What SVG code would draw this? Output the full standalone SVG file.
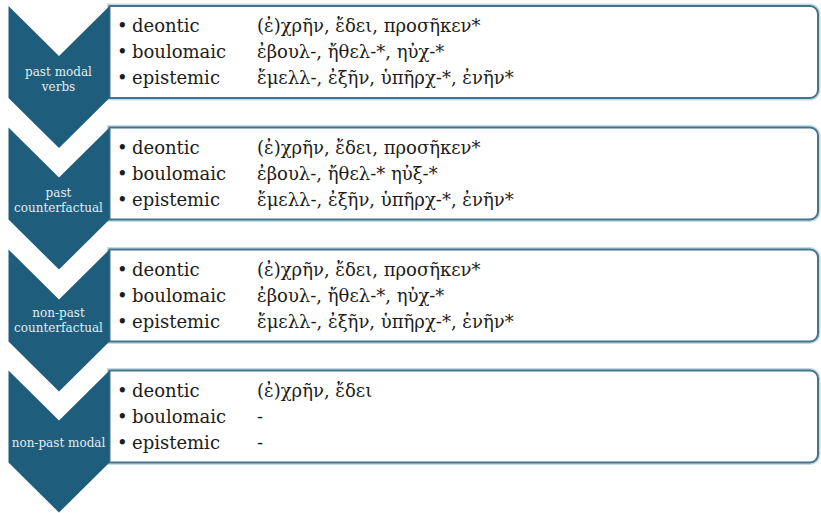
<svg xmlns="http://www.w3.org/2000/svg" width="821" height="513" viewBox="0 0 821 513">
<style>
.box{fill:#ffffff;stroke:#44748b;stroke-width:2}
.glow{fill:none;stroke:#c4dbe6;stroke-width:5}
.chev{fill:#1e5d7c}
.lbl{font-family:"DejaVu Serif",serif;font-size:12px;fill:#e3edf2;text-anchor:middle}
.item{font-family:"DejaVu Serif",serif;font-size:18px;fill:#1c1c1c}
</style>
<defs>
<path id="boxshape" d="M109.5,0 H810 a8,8 0 0 1 8,8 V84 a8,8 0 0 1 -8,8 H109.5 Z"/>
<path id="chevshape" d="M8.5,0 L59,50 L109.5,0 V92 L59,142 L8.5,92 Z"/>
</defs>
<rect width="821" height="513" fill="#ffffff"/>
<g id="connectors"></g>

<g id="row1" transform="translate(0,6)">
<use href="#boxshape" class="glow"/>
<use href="#boxshape" class="box"/>
<use href="#chevshape" class="chev"/>
<text class="lbl" x="58.5" y="70">past modal</text>
<text class="lbl" x="58.5" y="85">verbs</text>
<text class="item" y="26"><tspan x="117">•</tspan><tspan x="132">deontic</tspan><tspan x="257">(ἐ)χρῆν, ἔδει, προσῆκεν*</tspan></text>
<text class="item" y="52"><tspan x="117">•</tspan><tspan x="132">boulomaic</tspan><tspan x="257">ἐβουλ-, ἤθελ-*, ηὐχ-*</tspan></text>
<text class="item" y="78"><tspan x="117">•</tspan><tspan x="132">epistemic</tspan><tspan x="257">ἔμελλ-, ἐξῆν, ὑπῆρχ-*, ἐνῆν*</tspan></text>
</g>

<g id="row2" transform="translate(0,127.5)">
<use href="#boxshape" class="glow"/>
<use href="#boxshape" class="box"/>
<use href="#chevshape" class="chev"/>
<text class="lbl" x="58.5" y="69">past</text>
<text class="lbl" x="58.5" y="84">counterfactual</text>
<text class="item" y="26"><tspan x="117">•</tspan><tspan x="132">deontic</tspan><tspan x="257">(ἐ)χρῆν, ἔδει, προσῆκεν*</tspan></text>
<text class="item" y="52"><tspan x="117">•</tspan><tspan x="132">boulomaic</tspan><tspan x="257">ἐβουλ-, ἤθελ-* ηὐξ-*</tspan></text>
<text class="item" y="78"><tspan x="117">•</tspan><tspan x="132">epistemic</tspan><tspan x="257">ἔμελλ-, ἐξῆν, ὑπῆρχ-*, ἐνῆν*</tspan></text>
</g>

<g id="row3" transform="translate(0,249.5)">
<use href="#boxshape" class="glow"/>
<use href="#boxshape" class="box"/>
<use href="#chevshape" class="chev"/>
<text class="lbl" x="58.5" y="67">non-past</text>
<text class="lbl" x="58.5" y="82">counterfactual</text>
<text class="item" y="26"><tspan x="117">•</tspan><tspan x="132">deontic</tspan><tspan x="257">(ἐ)χρῆν, ἔδει, προσῆκεν*</tspan></text>
<text class="item" y="52"><tspan x="117">•</tspan><tspan x="132">boulomaic</tspan><tspan x="257">ἐβουλ-, ἤθελ-*, ηὐχ-*</tspan></text>
<text class="item" y="78"><tspan x="117">•</tspan><tspan x="132">epistemic</tspan><tspan x="257">ἔμελλ-, ἐξῆν, ὑπῆρχ-*, ἐνῆν*</tspan></text>
</g>

<g id="row4" transform="translate(0,370.5)">
<use href="#boxshape" class="glow"/>
<use href="#boxshape" class="box"/>
<use href="#chevshape" class="chev"/>
<text class="lbl" x="58.5" y="76">non-past modal</text>
<text class="item" y="26"><tspan x="117">•</tspan><tspan x="132">deontic</tspan><tspan x="257">(ἐ)χρῆν, ἔδει</tspan></text>
<text class="item" y="52"><tspan x="117">•</tspan><tspan x="132">boulomaic</tspan><tspan x="257">-</tspan></text>
<text class="item" y="78"><tspan x="117">•</tspan><tspan x="132">epistemic</tspan><tspan x="257">-</tspan></text>
</g>
</svg>
